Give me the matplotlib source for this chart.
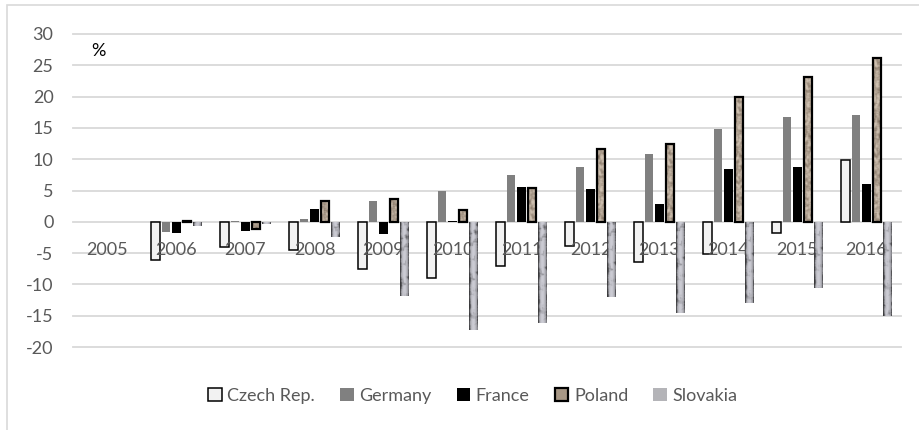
import numpy as np
import matplotlib
matplotlib.use("Agg")
import matplotlib.pyplot as plt
from matplotlib.patches import Rectangle, Patch

nan = float("nan")

years = ["2005", "2006", "2007", "2008", "2009", "2010",
         "2011", "2012", "2013", "2014", "2015", "2016"]
czech = [nan, -6.1, -4.0, -4.5, -7.6, -9.0, -7.1, -3.9, -6.5, -5.1, -1.8, 9.8]
germany = [nan, -1.7, 0.05, 0.5, 3.4, 4.9, 7.4, 8.7, 10.9, 14.9, 16.7, 17.0]
france = [nan, -1.8, -1.4, 2.0, -2.0, 0.1, 5.5, 5.2, 2.9, 8.5, 8.8, 6.0]
poland = [nan, 0.1, -1.1, 3.4, 3.6, 1.9, 5.4, 11.7, 12.5, 20.0, 23.2, 26.2]
slovakia = [nan, -0.7, -0.3, -2.4, -11.9, -17.3, -16.2, -12.0, -14.6, -12.9, -10.6, -15.0]

TXT = "#595959"
GRID = "#d9d9d9"
FS = 13

plt.rcParams["font.family"] = ["Lato", "DejaVu Sans"]

fig = plt.figure(figsize=(9.2, 4.3), dpi=100)
fig.patch.set_facecolor("white")
ax = fig.add_axes([73 / 920, 1 - 347 / 430, 828 / 920, 313 / 430])

yticks = np.arange(-20, 31, 5)
for v in yticks:
    ax.axhline(v, color=GRID, lw=1.3, zorder=0, clip_on=False)

x = np.arange(len(years))
pitch = 0.154
width = 0.126


def smooth_noise(rng, shape, k_rows, k_cols):
    n = rng.random(shape)
    n = np.apply_along_axis(lambda r: np.convolve(r, np.ones(k_rows) / k_rows, mode="same"), 0, n)
    n = np.apply_along_axis(lambda r: np.convolve(r, np.ones(k_cols) / k_cols, mode="same"), 1, n)
    return (n - n.min()) / (n.max() - n.min())


def poland_texture():
    rng = np.random.default_rng(5)
    n = smooth_noise(rng, (260, 12), 4, 3)
    n = np.clip((n - 0.5) * 1.8 + 0.5, 0, 1)
    lo = np.array(matplotlib.colors.to_rgb("#7a6a5a"))
    hi = np.array(matplotlib.colors.to_rgb("#cfc1b1"))
    return lo + (hi - lo) * n[..., None]


def slovakia_texture():
    # grey granite: bright centre, darker edges, dark blotches
    rng = np.random.default_rng(11)
    n = smooth_noise(rng, (260, 12), 6, 4)
    cols = np.linspace(-1, 1, 12)
    shade = 0.80 - 0.28 * cols ** 2
    v = shade[None, :] - np.clip(0.6 - n, 0, 1) * 1.5
    v = np.clip(v, 0.22, 0.92)
    img = np.stack([v, v, v * 1.04], axis=-1)
    return np.clip(img, 0, 1)


series = [
    ("Czech Rep.", czech, dict(color="#f2f2f2", edgecolor="black", linewidth=1.1)),
    ("Germany", germany, dict(color="#808080", edgecolor="none")),
    ("France", france, dict(color="black", edgecolor="none")),
    ("Poland", poland, dict(color="#a89886", edgecolor="black", linewidth=1.6)),
    ("Slovakia", slovakia, dict(color="#a8a8ac", edgecolor="none")),
]

containers = {}
for i, (name, vals, style) in enumerate(series):
    containers[name] = ax.bar(x + (i - 2) * pitch, vals, width, label=name,
                              zorder=2, **style)

tex = {"Poland": poland_texture(), "Slovakia": slovakia_texture()}
for name in ("Poland", "Slovakia"):
    for j, bar in enumerate(containers[name]):
        h = bar.get_height()
        if not np.isfinite(h) or abs(h) < 0.2:
            continue
        x0 = bar.get_x()
        y0, y1 = sorted([bar.get_y(), bar.get_y() + h])
        rows = max(int((y1 - y0) * 9), 4)
        im = ax.imshow(tex[name][j * 7:j * 7 + rows], extent=(x0, x0 + bar.get_width(), y0, y1),
                       aspect="auto", interpolation="bilinear", zorder=2.2)
        im.set_clip_path(bar)
        if name == "Poland":
            bar.set_zorder(2.3)
            bar.set_facecolor("none")
        else:
            bar.set_zorder(2.2)

ax.set_xlim(-0.5, len(years) - 0.5)
ax.set_ylim(-20, 30)
ax.set_aspect("auto")

# category labels sit inside the plot, over the plain bars but under the textured ones
for i, yr in enumerate(years):
    ax.text(i, -4.5, yr, ha="center", va="center", fontsize=FS, color=TXT, zorder=2.1)

ax.set_yticks(yticks)
ax.set_yticklabels([str(v) for v in yticks], fontsize=FS, color=TXT)
ax.tick_params(axis="y", length=0, pad=14)
ax.set_xticks([])
for s in ax.spines.values():
    s.set_visible(False)
ax.set_facecolor("none")

ax.text(0.031, 0.946, "%", transform=ax.transAxes, ha="center", va="center",
        fontsize=FS, color="black")

handles = [
    Patch(facecolor="#f2f2f2", edgecolor="black", linewidth=1.1, label="Czech Rep."),
    Patch(facecolor="#808080", edgecolor="none", label="Germany"),
    Patch(facecolor="black", edgecolor="none", label="France"),
    Patch(facecolor="#a89886", edgecolor="black", linewidth=1.6, label="Poland"),
    Patch(facecolor="#b4b4b8", edgecolor="none", label="Slovakia"),
]
leg = fig.legend(handles=handles, loc="center", bbox_to_anchor=(0.514, 1 - 396 / 430),
                 ncol=5, frameon=False, fontsize=FS, handlelength=0.75, handleheight=0.75,
                 handletextpad=0.3, columnspacing=1.4)
for t in leg.get_texts():
    t.set_color(TXT)

# light chart border
fig.add_artist(Rectangle((7 / 920, -0.1), 1.2, 0.1 + 1 - 5 / 430, transform=fig.transFigure,
                         facecolor="none", edgecolor=GRID, linewidth=1.2))

fig.savefig("out.png", dpi=100, facecolor="white")
